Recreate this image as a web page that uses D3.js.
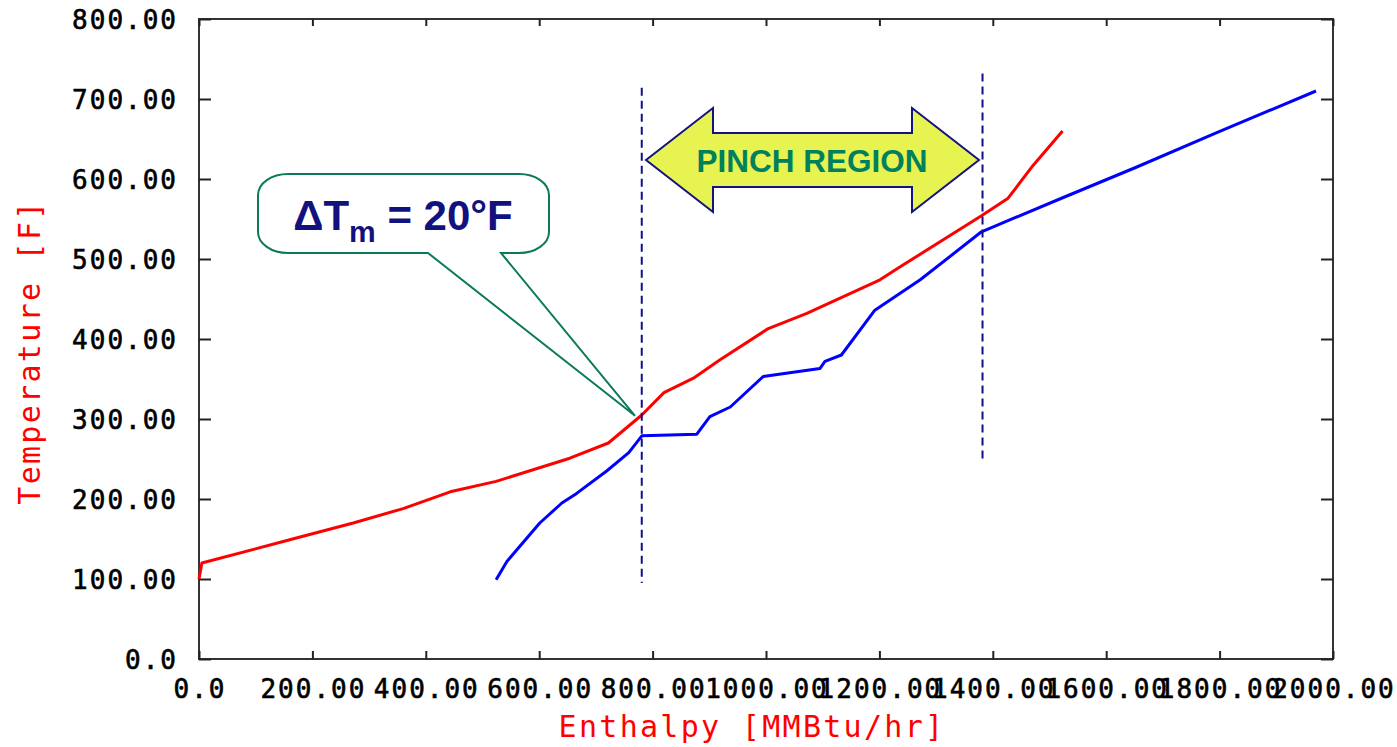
<!DOCTYPE html>
<html>
<head>
<meta charset="utf-8">
<script src="https://cdn.jsdelivr.net/npm/d3@7"></script>
<style>
    body { margin: 0; background: #fff; }
    svg { display: block; }
    .tick-label { font-family: "DejaVu Sans Mono", monospace; font-size: 26px; letter-spacing: 2px; fill: #000; stroke: #000; stroke-width: 0.6px; }
    .axis-title { font-family: "DejaVu Sans Mono", monospace; font-size: 30px; letter-spacing: 2.3px; fill: #ff0000; }
</style>
</head>
<body>
<svg width="1397" height="747"></svg>
<script>
// hot composite curve (red)
var hotEnthalpy = [0, 5, 160, 272, 360, 443, 524, 654, 722, 781, 820, 872, 919, 1004, 1072, 1201, 1236, 1380, 1427, 1471, 1523];
var hotTemp = [100, 120, 149, 170, 188, 209, 222, 251, 270, 305, 333, 351, 374, 413, 432, 474, 490, 554, 576, 617, 660];

// cold composite curve (blue)
var coldEnthalpy = [524, 543, 601, 640, 666, 719, 758, 781, 878, 901, 937, 995, 1095, 1104, 1133, 1192, 1272, 1380, 1518, 1654, 1795, 1970];
var coldTemp = [99, 122, 170, 195, 207, 235, 258, 279, 281, 303, 315, 353, 363, 372, 380, 436, 474, 534, 575, 615, 658, 710];

// pinch region boundaries (enthalpy) and their vertical extent (temperature)
var pinchBounds = [780, 1381];
var pinchTop = [714, 732];
var pinchBottom = [95, 249];

var xTicks = [0, 200, 400, 600, 800, 1000, 1200, 1400, 1600, 1800, 2000];
var xTickLabels = ["0.0", "200.00", "400.00", "600.00", "800.00", "1000.00", "1200.00", "1400.00", "1600.00", "1800.00", "2000.00"];
var yTicks = [0, 100, 200, 300, 400, 500, 600, 700, 800];
var yTickLabels = ["0.0", "100.00", "200.00", "300.00", "400.00", "500.00", "600.00", "700.00", "800.00"];

window.onload = main;

function main() {
    var svg = d3.select("svg");

    var x = d3.scaleLinear().domain([0, 2000]).range([199, 1333]);
    var y = d3.scaleLinear().domain([0, 800]).range([659, 19]);

    // frame
    svg.append("rect")
        .attr("x", x(0))
        .attr("y", y(800))
        .attr("width", x(2000) - x(0))
        .attr("height", y(0) - y(800))
        .style("fill", "none")
        .style("stroke", "#333")
        .style("stroke-width", 2);

    // inward ticks on all four sides
    var bottomAxis = d3.axisBottom(x).tickValues(xTicks).tickSize(-8).tickFormat("");
    var topAxis = d3.axisTop(x).tickValues(xTicks).tickSize(-7).tickFormat("");
    var leftAxis = d3.axisLeft(y).tickValues(yTicks).tickSize(-12).tickFormat("");
    var rightAxis = d3.axisRight(y).tickValues(yTicks).tickSize(-12).tickFormat("");

    svg.append("g").attr("transform", "translate(0," + y(0) + ")").call(bottomAxis);
    svg.append("g").attr("transform", "translate(0," + y(800) + ")").call(topAxis);
    svg.append("g").attr("transform", "translate(" + x(0) + ",0)").call(leftAxis);
    svg.append("g").attr("transform", "translate(" + x(2000) + ",0)").call(rightAxis);
    svg.selectAll(".domain").remove();
    svg.selectAll(".tick line").style("stroke", "#222").style("stroke-width", 2);

    // tick labels
    svg.selectAll(".xlab")
        .data(xTicks)
        .enter()
        .append("text")
        .attr("class", "tick-label")
        .attr("x", (d) => x(d) + 1)
        .attr("y", 698)
        .attr("text-anchor", "middle")
        .text((d, i) => xTickLabels[i]);

    svg.selectAll(".ylab")
        .data(yTicks)
        .enter()
        .append("text")
        .attr("class", "tick-label")
        .attr("x", 178)
        .attr("y", (d) => y(d) + 9.5)
        .attr("text-anchor", "end")
        .text((d, i) => yTickLabels[i]);

    // axis titles
    svg.append("text")
        .attr("class", "axis-title")
        .attr("x", 752)
        .attr("y", 737)
        .attr("text-anchor", "middle")
        .text("Enthalpy [MMBtu/hr]");

    svg.append("text")
        .attr("class", "axis-title")
        .attr("transform", "translate(40,352) rotate(-90)")
        .attr("text-anchor", "middle")
        .text("Temperature [F]");

    // composite curves
    var line = d3.line()
        .x((d) => x(d[0]))
        .y((d) => y(d[1]));

    var hot = hotEnthalpy.map((h, i) => [h, hotTemp[i]]);
    var cold = coldEnthalpy.map((h, i) => [h, coldTemp[i]]);

    svg.append("path")
        .datum(hot)
        .attr("d", line)
        .style("fill", "none")
        .style("stroke", "#ff0000")
        .style("stroke-width", 3)
        .style("stroke-linejoin", "round");

    svg.append("path")
        .datum(cold)
        .attr("d", line)
        .style("fill", "none")
        .style("stroke", "#0000ff")
        .style("stroke-width", 3)
        .style("stroke-linejoin", "round");

    // pinch boundaries
    svg.selectAll(".pinch")
        .data(pinchBounds)
        .enter()
        .append("line")
        .attr("x1", (d) => x(d) + 0.5)
        .attr("x2", (d) => x(d) + 0.5)
        .attr("y1", (d, i) => y(pinchTop[i]))
        .attr("y2", (d, i) => y(pinchBottom[i]))
        .style("stroke", "#10108a")
        .style("stroke-width", 2)
        .style("stroke-dasharray", "8,5");

    // callout: Delta T min
    var tip = [x(769), y(304)];
    var bx0 = 258, bx1 = 549, by0 = 174, by1 = 253, rx = 30, ry = 21;
    var callout = "M" + (bx0 + rx) + "," + by0 +
        " H" + (bx1 - rx) +
        " A" + rx + "," + ry + " 0 0 1 " + bx1 + "," + (by0 + ry) +
        " V" + (by1 - ry) +
        " A" + rx + "," + ry + " 0 0 1 " + (bx1 - rx) + "," + by1 +
        " H501 L" + tip[0] + "," + tip[1] + " L428," + by1 +
        " H" + (bx0 + rx) +
        " A" + rx + "," + ry + " 0 0 1 " + bx0 + "," + (by1 - ry) +
        " V" + (by0 + ry) +
        " A" + rx + "," + ry + " 0 0 1 " + (bx0 + rx) + "," + by0 + " Z";

    svg.append("path")
        .attr("d", callout)
        .style("fill", "#fff")
        .style("stroke", "#0b7a5c")
        .style("stroke-width", 2);

    var dt = svg.append("text")
        .attr("x", 403)
        .attr("y", 230)
        .attr("text-anchor", "middle")
        .style("font-family", "Liberation Sans, Arial, sans-serif")
        .style("font-weight", "bold")
        .style("font-size", "42px")
        .style("fill", "#12127e");
    dt.append("tspan").text("\u0394T");
    dt.append("tspan").attr("dy", 12).style("font-size", "30px").text("m");
    dt.append("tspan").attr("dy", -12).text(" = 20\u00B0F");

    // pinch region double arrow
    var ax0 = 646, ax1 = 979, hb0 = 713, hb1 = 912;
    var ay = 160, headH = 52, shaftH = 27;
    var arrow = [
        [ax0, ay], [hb0, ay - headH], [hb0, ay - shaftH], [hb1, ay - shaftH], [hb1, ay - headH],
        [ax1, ay], [hb1, ay + headH], [hb1, ay + shaftH], [hb0, ay + shaftH], [hb0, ay + headH]
    ];
    svg.append("path")
        .attr("d", "M" + arrow.join(" L") + " Z")
        .style("fill", "#e6f350")
        .style("stroke", "#14147e")
        .style("stroke-width", 2)
        .style("stroke-linejoin", "miter");

    svg.append("text")
        .attr("x", 812)
        .attr("y", 172)
        .attr("text-anchor", "middle")
        .style("font-family", "Liberation Sans, Arial, sans-serif")
        .style("font-weight", "bold")
        .style("font-size", "31.5px")
        .style("fill", "#00805c")
        .text("PINCH REGION");
}
</script>
</body>
</html>
